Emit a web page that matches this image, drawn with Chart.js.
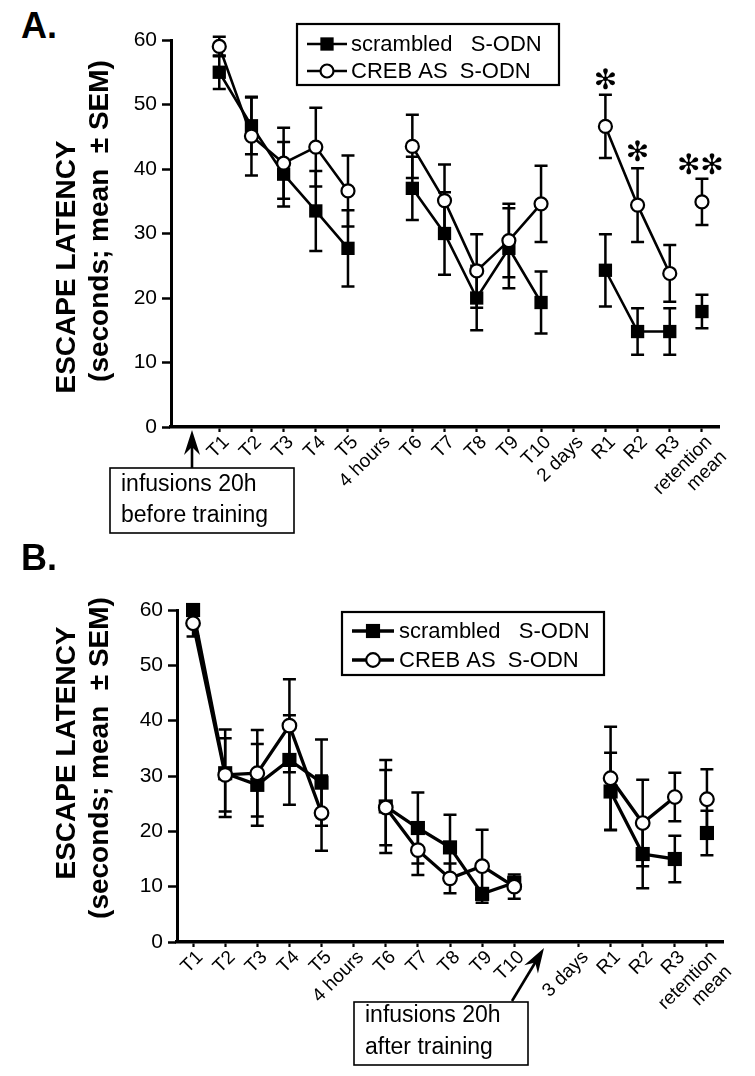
<!DOCTYPE html>
<html>
<head>
<meta charset="utf-8">
<script src="https://cdn.jsdelivr.net/npm/chart.js@4.4.1/dist/chart.umd.min.js"></script>
<style>
  body { margin: 0; background: #fff; width: 755px; height: 1076px; position: relative; overflow: hidden; }
  .panel { position: absolute; left: 0; }
  .tag { position: absolute; left: 21px; font: bold 36px "Liberation Sans", Arial, sans-serif; line-height: 36px; color: #000; }
</style>
</head>
<body>
<div class="tag" style="top:8px">A.</div>
<canvas id="chartA" class="panel" style="top:0" width="755" height="540"></canvas>
<div class="tag" style="top:540px">B.</div>
<canvas id="chartB" class="panel" style="top:540px" width="755" height="536"></canvas>

<script>
// panel A: infusions 20h before training
const labelsA = ['T1', 'T2', 'T3', 'T4', 'T5', '4 hours', 'T6', 'T7', 'T8', 'T9', 'T10', '2 days', 'R1', 'R2', 'R3', ['retention', 'mean']];
const scrambledA = [55.0, 46.7, 39.2, 33.5, 27.7, null, 37.0, 30.0, 20.0, 27.7, 19.3, null, 24.3, 14.8, 14.8, 17.9];
const scrambledSemA = [2.6, 4.4, 5.0, 6.2, 5.9, null, 4.9, 6.4, 5.0, 6.2, 4.8, null, 5.6, 3.6, 3.6, 2.6];
const crebA = [59.0, 45.1, 40.9, 43.4, 36.6, null, 43.5, 35.1, 24.2, 28.9, 34.6, null, 46.6, 34.4, 23.8, 34.9];
const crebSemA = [1.5, 6.1, 5.5, 6.1, 5.5, null, 4.9, 5.6, 5.7, 5.7, 5.9, null, 4.9, 5.7, 4.4, 3.6];

// panel B: infusions 20h after training
const labelsB = ['T1', 'T2', 'T3', 'T4', 'T5', '4 hours', 'T6', 'T7', 'T8', 'T9', 'T10', '', '3 days', 'R1', 'R2', 'R3', ['retention', 'mean']];
const scrambledB = [60.0, 30.5, 28.4, 32.9, 28.8, null, 24.5, 20.6, 17.1, 8.7, 10.7, null, null, 27.2, 15.9, 15.0, 19.7];
const scrambledSemB = [0, 7.9, 7.4, 8.1, 7.8, null, 8.4, 6.4, 5.9, 1.0, 0.8, null, null, 7.0, 6.2, 4.2, 4.0];
const crebB = [57.6, 30.2, 30.5, 39.1, 23.3, null, 24.3, 16.6, 11.5, 13.7, 10.0, null, null, 29.6, 21.5, 26.2, 25.8];
const crebSemB = [2.4, 6.6, 7.8, 8.4, 6.8, null, 6.8, 4.5, 2.7, 6.6, 2.2, null, null, 9.3, 7.8, 4.4, 5.4];

const yTicks = [0, 10, 20, 30, 40, 50, 60];
const yTitle = ['ESCAPE LATENCY', '(seconds; mean  \u00B1 SEM)'];
const seriesNames = ['scrambled   S-ODN', 'CREB AS  S-ODN'];

const FONT = '"Liberation Sans", Arial, sans-serif';

// error bars under the markers; axis title, legend box, infusion note and asterisks on top
const decoPlugin = {
  id: 'deco',
  beforeDatasetsDraw(chart) {
    const { ctx, scales: { x, y } } = chart;
    ctx.save();
    ctx.strokeStyle = '#000';
    ctx.lineWidth = 2.5;
    chart.data.datasets.forEach(ds => {
      ds.data.forEach((p, i) => {
        const e = ds.sem[i];
        if (p.y == null || !e) return;
        const px = x.getPixelForValue(p.x);
        const t = y.getPixelForValue(p.y + e);
        const b = y.getPixelForValue(p.y - e);
        ctx.beginPath();
        ctx.moveTo(px, t); ctx.lineTo(px, b);
        ctx.moveTo(px - 6.5, t); ctx.lineTo(px + 6.5, t);
        ctx.moveTo(px - 6.5, b); ctx.lineTo(px + 6.5, b);
        ctx.stroke();
      });
    });
    ctx.restore();
  },
  afterDraw(chart, args, o) {
    const { ctx, scales: { x, y } } = chart;
    ctx.save();
    ctx.fillStyle = '#000';
    ctx.strokeStyle = '#000';

    // y axis title, two rotated lines
    ctx.font = 'bold 28px ' + FONT;
    ctx.textAlign = 'center';
    ctx.textBaseline = 'middle';
    yTitle.forEach((t, k) => {
      const [tx, ty] = o.title[k];
      ctx.save();
      ctx.translate(tx, ty);
      ctx.rotate(-Math.PI / 2);
      ctx.fillText(t, 0, 0);
      ctx.restore();
    });

    // legend
    const L = o.legend;
    ctx.lineWidth = 2.2;
    ctx.strokeRect(L.x, L.y, L.w, L.h);
    const order = chart.data.datasets.slice().sort((a, b) => b.order - a.order);
    order.forEach((ds, k) => {
      const cy = L.rows[k];
      ctx.lineWidth = ds.borderWidth;
      ctx.beginPath();
      ctx.moveTo(L.line[0], cy); ctx.lineTo(L.line[1], cy);
      ctx.stroke();
      const mx = (L.line[0] + L.line[1]) / 2;
      if (ds.pointStyle === 'rect') {
        const s = ds.pointRadius * Math.SQRT2;
        ctx.fillRect(mx - s / 2, cy - s / 2, s, s);
      } else {
        ctx.beginPath();
        ctx.arc(mx, cy, ds.pointRadius, 0, Math.PI * 2);
        ctx.fillStyle = '#fff'; ctx.fill();
        ctx.lineWidth = ds.pointBorderWidth; ctx.stroke();
        ctx.fillStyle = '#000';
      }
      ctx.font = L.font;
      ctx.textBaseline = 'middle';
      ctx.textAlign = 'left';
      ctx.fillText(ds.label, L.textX, cy + 1);
    });

    // infusion note with arrow
    const N = o.note;
    ctx.lineWidth = 1.6;
    ctx.strokeRect(N.x, N.y, N.w, N.h);
    ctx.font = N.font;
    ctx.textBaseline = 'middle';
    N.lines.forEach((t, k) => ctx.fillText(t, N.textX, N.rows[k]));
    const [x0, y0, x1, y1] = N.arrow;
    const c = Math.cos(Math.atan2(y1 - y0, x1 - x0));
    const s = Math.sin(Math.atan2(y1 - y0, x1 - x0));
    ctx.lineWidth = 2.6;
    ctx.beginPath();
    ctx.moveTo(x0, y0);
    ctx.lineTo(x1 - 14 * c, y1 - 14 * s);
    ctx.stroke();
    ctx.beginPath();
    ctx.moveTo(x1, y1);
    ctx.lineTo(x1 - 25 * c + 8 * s, y1 - 25 * s - 8 * c);
    ctx.lineTo(x1 - 17 * c, y1 - 17 * s);
    ctx.lineTo(x1 - 25 * c - 8 * s, y1 - 25 * s + 8 * c);
    ctx.closePath();
    ctx.fill();

    // significance marks
    ctx.font = '28px "DejaVu Sans", sans-serif';
    ctx.textAlign = 'center';
    (o.stars || []).forEach(st => {
      ctx.fillText(st.text, x.getPixelForValue(st.x), y.getPixelForValue(st.y));
    });
    ctx.restore();
  }
};

function makeChart(id, p) {
  const toPoints = vals => vals.map((v, i) => ({ x: i, y: v }));
  const meanIdx = p.labels.length - 1;
  // no line from R3 to the retention mean
  const seg = { borderColor: c => (c.p1DataIndex === meanIdx ? 'rgba(0,0,0,0)' : '#000') };
  return new Chart(document.getElementById(id), {
    type: 'line',
    data: {
      datasets: [
        {
          label: seriesNames[0], data: toPoints(p.scrambled), sem: p.scrambledSem, order: 1,
          borderColor: '#000', borderWidth: p.lw, segment: seg, clip: false,
          pointStyle: 'rect', pointRadius: p.rectR, pointBackgroundColor: '#000',
          pointBorderColor: '#000', pointBorderWidth: 0
        },
        {
          label: seriesNames[1], data: toPoints(p.creb), sem: p.crebSem, order: 0,
          borderColor: '#000', borderWidth: p.lw, segment: seg, clip: false,
          pointStyle: 'circle', pointRadius: p.circR, pointBackgroundColor: '#fff',
          pointBorderColor: '#000', pointBorderWidth: 2.2
        }
      ]
    },
    options: {
      responsive: false,
      animation: false,
      events: [],
      layout: { padding: { top: p.padTop, right: p.padRight, left: 0, bottom: 0 } },
      plugins: {
        legend: { display: false },
        tooltip: { enabled: false },
        deco: { title: p.title, legend: p.legend, note: p.note, stars: p.stars }
      },
      scales: {
        x: {
          type: 'linear', min: p.xMin, max: p.xMax,
          afterBuildTicks: s => {
            s.ticks = p.labels.map((l, i) => ({ value: i, l })).filter(t => t.l !== '');
          },
          afterFit: s => { s.height = p.xHeight; },
          ticks: {
            autoSkip: false, minRotation: 45, maxRotation: 45, padding: 0, labelOffset: 7,
            color: '#000', font: { family: FONT, size: 19, lineHeight: 1.1 },
            callback: v => p.labels[v]
          },
          grid: { drawOnChartArea: false, tickLength: 5, tickWidth: 2.2, tickColor: '#000' },
          border: { color: '#000', width: 3.5 }
        },
        y: {
          min: 0, max: 60,
          afterBuildTicks: s => { s.ticks = yTicks.map(v => ({ value: v })); },
          afterFit: s => { s.width = p.yWidth; },
          ticks: { padding: 5, color: '#000', font: { family: FONT, size: 21 } },
          grid: { drawOnChartArea: false, tickLength: 9, tickWidth: 2.5, tickColor: '#000' },
          border: { color: '#000', width: 3 }
        }
      }
    },
    plugins: [decoPlugin]
  });
}

makeChart('chartA', {
  labels: labelsA, scrambled: scrambledA, scrambledSem: scrambledSemA, creb: crebA, crebSem: crebSemA,
  xMin: -1.5, xMax: 15.53, padTop: 40, padRight: 36, yWidth: 171, xHeight: 113,
  lw: 2.6, rectR: 9.4, circR: 6.5,
  title: [[67, 267], [100, 221]],
  legend: { x: 297, y: 24, w: 262, h: 61, rows: [44, 71], line: [307, 347], textX: 351, font: '22px ' + FONT },
  note: { x: 110, y: 468, w: 184, h: 65, textX: 121, rows: [485, 516], lines: ['infusions 20h', 'before training'],
          font: '23px ' + FONT, arrow: [192, 468, 192, 430] },
  stars: [{ x: 12, y: 53.6, text: '\u273B' }, { x: 13, y: 42.4, text: '\u273B' }, { x: 14.95, y: 40.4, text: '\u273B\u273B' }]
});

makeChart('chartB', {
  labels: labelsB, scrambled: scrambledB, scrambledSem: scrambledSemB, creb: crebB, crebSem: crebSemB,
  xMin: -0.5, xMax: 16.5, padTop: 70, padRight: 32, yWidth: 177, xHeight: 134,
  lw: 3.3, rectR: 10, circR: 6.8,
  title: [[67, 213], [100, 218]],
  legend: { x: 342, y: 72, w: 262, h: 63, rows: [91, 120], line: [352, 394], textX: 399, font: '22px ' + FONT },
  note: { x: 354, y: 462, w: 174, h: 63, textX: 365, rows: [476, 508], lines: ['infusions 20h', 'after training'],
          font: '23px ' + FONT, arrow: [512, 461, 544, 408] }
});
</script>
</body>
</html>
